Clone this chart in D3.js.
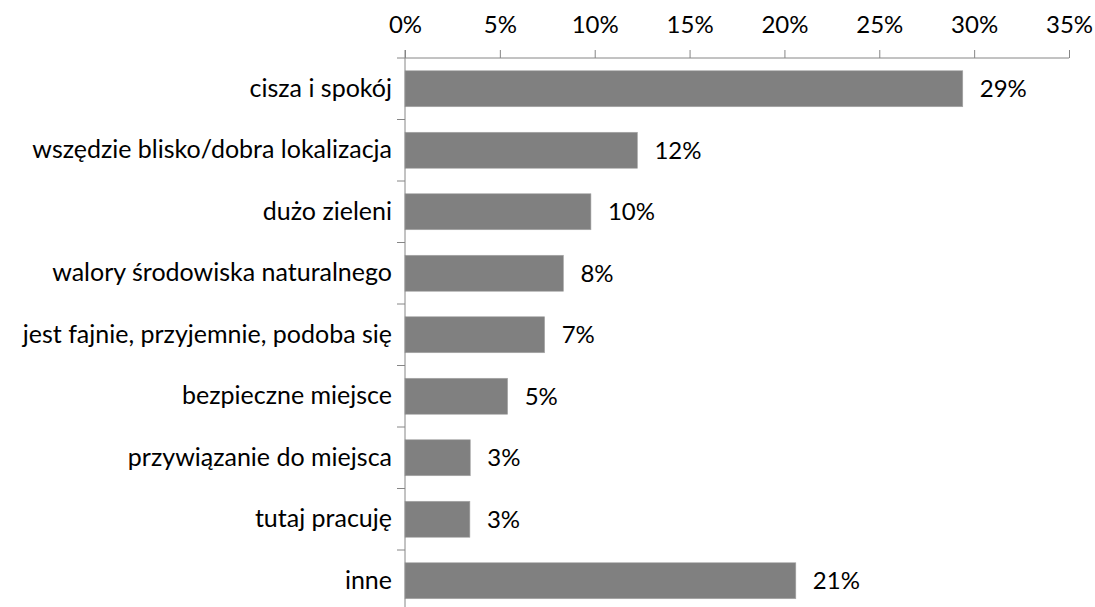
<!DOCTYPE html>
<html>
<head>
<meta charset="utf-8">
<script src="https://cdn.jsdelivr.net/npm/d3@7"></script>
<style>
  body { margin: 0; background: #fff; }
  text { font-family: Lato, "Open Sans", sans-serif; fill: #000; }
</style>
</head>
<body>
<div class="chart"></div>
<script>
// Horizontal bar chart, value axis on top

var categories = [
    "cisza i spokój",
    "wszędzie blisko/dobra lokalizacja",
    "dużo zieleni",
    "walory środowiska naturalnego",
    "jest fajnie, przyjemnie, podoba się",
    "bezpieczne miejsce",
    "przywiązanie do miejsca",
    "tutaj pracuję",
    "inne"
];
var values = [29.4, 12.25, 9.8, 8.35, 7.36, 5.41, 3.44, 3.42, 20.6];
var tickValues = [0, 5, 10, 15, 20, 25, 30, 35];

var svgWidth = 1095;
var svgHeight = 607;
var fontSize = "24px";

var svg = d3.select(".chart")
    .append("svg")
    .attr("width", svgWidth)
    .attr("height", svgHeight);

var x = d3.scaleLinear()
    .domain([0, 35])
    .range([405, 1069]);

var y = d3.scaleBand()
    .domain(categories)
    .range([58, 58 + categories.length * 61.5])
    .paddingInner(0.415)
    .paddingOuter(0.2075);

var axisColor = "#868686";

// bars
svg.selectAll("rect.bar")
    .data(values)
    .enter()
    .append("rect")
    .attr("class", "bar")
    .attr("x", x(0))
    .attr("y", function(d, i) { return y(categories[i]); })
    .attr("width", function(d) { return x(d) - x(0); })
    .attr("height", y.bandwidth())
    .attr("fill", "#808080")
    .attr("stroke", "#a6a6a6")
    .attr("stroke-width", 0.6);

// value labels
svg.selectAll("text.val")
    .data(values)
    .enter()
    .append("text")
    .attr("class", "val")
    .attr("x", function(d) { return x(d) + 17; })
    .attr("y", function(d, i) { return y(categories[i]) + y.bandwidth() / 2; })
    .attr("dy", "0.35em")
    .style("font-size", fontSize)
    .text(function(d) { return Math.round(d) + "%"; });

// top axis
var topAxis = d3.axisTop(x)
    .tickValues(tickValues)
    .tickSize(8)
    .tickPadding(17)
    .tickFormat(function(d) { return d + "%"; });

var gx = svg.append("g")
    .attr("transform", "translate(0,58)")
    .call(topAxis);
gx.select(".domain").attr("stroke", axisColor).attr("d", "M" + x(0) + ",0H" + x(35));
gx.selectAll(".tick line").attr("stroke", axisColor);
gx.selectAll(".tick text")
    .style("font-size", fontSize)
    .style("font-family", "Lato, sans-serif")
    .attr("fill", "#000");

// category axis
var leftAxis = d3.axisLeft(y).tickSize(0).tickPadding(13);
var gy = svg.append("g")
    .attr("transform", "translate(" + x(0) + ",0)")
    .call(leftAxis);
gy.select(".domain").attr("stroke", axisColor).attr("d", "M0,50V" + svgHeight);
gy.selectAll(".tick text")
    .style("font-size", "25px")
    .style("font-family", "Lato, sans-serif")
    .attr("fill", "#000");

// category boundary ticks
var step = y.step();
svg.selectAll("line.ctick")
    .data(d3.range(categories.length + 1))
    .enter()
    .append("line")
    .attr("class", "ctick")
    .attr("x1", x(0) - 8)
    .attr("x2", x(0))
    .attr("y1", function(i) { return 58 + i * step; })
    .attr("y2", function(i) { return 58 + i * step; })
    .attr("stroke", axisColor);
</script>
</body>
</html>
